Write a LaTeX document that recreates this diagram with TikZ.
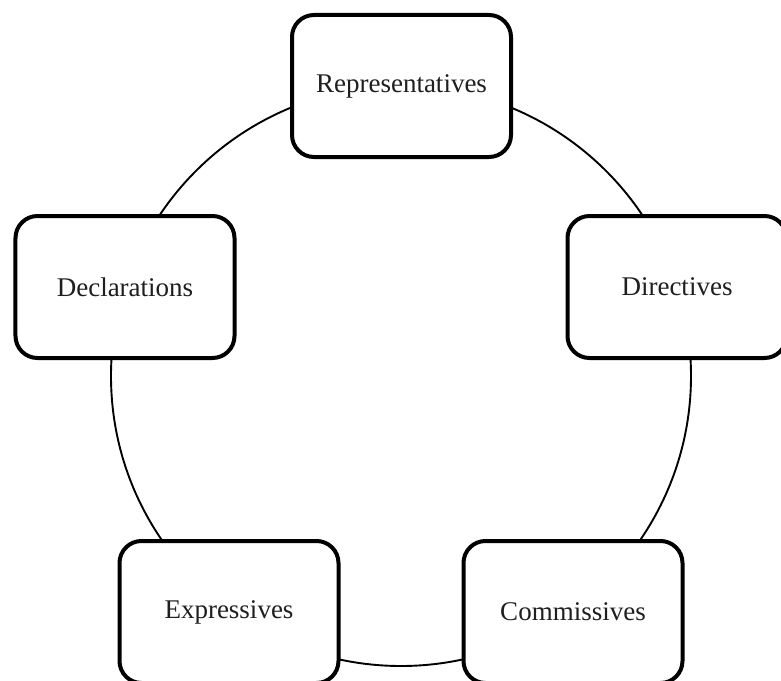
\documentclass[tikz,border=0pt]{standalone}
\usepackage{fontspec}
\setmainfont{Liberation Serif}
\begin{document}
\begin{tikzpicture}[x=1bp,y=-1bp,
  actbox/.style={draw=black, fill=white, line width=4bp, rounded corners=22bp,
    minimum width=219bp, minimum height=142bp, inner sep=0pt, outer sep=0pt,
    font=\fontsize{27bp}{32bp}\selectfont, text=black!88},
  ring/.style={draw=black, line width=1.9bp}]
\useasboundingbox (0,0) rectangle (781,681);
\clip (0,0) rectangle (781,681);
\fill[white] (0,0) rectangle (781,681);
\coordinate (c) at (401,376);
\draw[ring] (c) circle (290bp);
\node[actbox] (rep) at (401.5,86) {Representatives};
\node[actbox] (dir) at (677,287) {Directives};
\node[actbox] (com) at (573,612) {Commissives};
\node[actbox] (exp) at (229,612) {Expressives};
\node[actbox] (dec) at (125,287) {Declarations};
\end{tikzpicture}
\end{document}
